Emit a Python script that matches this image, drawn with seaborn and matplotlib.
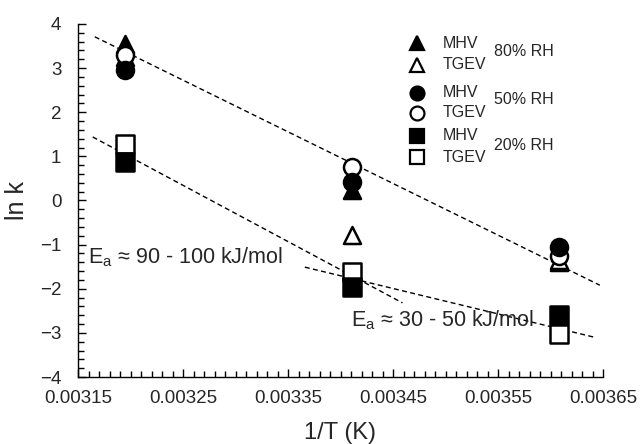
import matplotlib
matplotlib.use("Agg")
import matplotlib.pyplot as plt
import seaborn as sns
import numpy as np
from matplotlib.ticker import MultipleLocator, FixedLocator

sns.set_style("white")
plt.rcParams['font.family'] = ['Liberation Sans', 'DejaVu Sans']
plt.rcParams['mathtext.fontset'] = 'custom'
plt.rcParams['mathtext.rm'] = 'Liberation Sans'

# Data
inv_T = [0.003195, 0.003411, 0.003608]
mhv_80 = [3.55, 0.24, -1.40]
tgev_80 = [3.25, -0.78, -1.35]
tgev_50 = [3.30, 0.76, -1.25]
mhv_50 = [2.96, 0.42, -1.05]
tgev_20 = [1.28, -1.62, -3.03]
mhv_20 = [0.87, -1.96, -2.60]

fit_hi_x = [0.003166, 0.003647]
fit_hi_y = [3.71, -1.92]
fit_lo1_x = [0.003164, 0.003459]
fit_lo1_y = [1.44, -2.32]
fit_lo2_x = [0.003366, 0.003642]
fit_lo2_y = [-1.51, -3.10]

xticks = [0.00315, 0.00325, 0.00335, 0.00345, 0.00355, 0.00365]
xticklabels = ["0.00315", "0.00325", "0.00335", "0.00345", "0.00355", "0.00365"]
yticks = [-4, -3, -2, -1, 0, 1, 2, 3, 4]

fig = plt.figure(figsize=(6.4, 4.44), dpi=100)
ax = fig.add_axes([78/640, 1-377/444, 525/640, 353/444])

# fit lines
for fx, fy in [(fit_hi_x, fit_hi_y), (fit_lo1_x, fit_lo1_y), (fit_lo2_x, fit_lo2_y)]:
    sns.lineplot(x=fx, y=fy, ax=ax, color='black', linewidth=1.0,
                 linestyle=(0, (3.6, 2.4)), estimator=None, sort=False)

ms = 150
series = [
    (mhv_80, '^', 'black'),
    (tgev_80, '^', 'white'),
    (tgev_50, 'o', 'white'),
    (mhv_50, 'o', 'black'),
    (tgev_20, 's', 'white'),
    (mhv_20, 's', 'black'),
]
for ys, mk, fc in series:
    sns.scatterplot(x=inv_T, y=ys, ax=ax, marker=mk, s=ms,
                    facecolors=fc, edgecolors='black', linewidths=1.8, zorder=3)

# custom legend
leg_x = (417-78)/525
rows = [('^', 'black', 'MHV', 0.946), ('^', 'white', 'TGEV', 0.884),
        ('o', 'black', 'MHV', 0.805), ('o', 'white', 'TGEV', 0.748),
        ('s', 'black', 'MHV', 0.683), ('s', 'white', 'TGEV', 0.623)]
for mk, fc, lab, yy in rows:
    ax.plot([leg_x], [yy], marker=mk, markersize=10, markerfacecolor=fc,
            markeredgecolor='black', markeredgewidth=1.6, linestyle='none',
            transform=ax.transAxes, clip_on=False)
    ax.text((443-78)/525, yy, lab, transform=ax.transAxes, fontsize=11.5,
            va='center', ha='left')
for lab, yy in [('80% RH', 0.921), ('50% RH', 0.785), ('20% RH', 0.657)]:
    ax.text((494-78)/525, yy, lab, transform=ax.transAxes, fontsize=11.5,
            va='center', ha='left')

ax.text(0.0031595, -1.28, r"E$_{\mathrm{a}}$ ≈ 90 - 100 kJ/mol", fontsize=15.5,
        va='center', ha='left')
ax.text(0.003410, -2.72, r"E$_{\mathrm{a}}$ ≈ 30 - 50 kJ/mol", fontsize=15.5,
        va='center', ha='left')

ax.set_xlim(0.00315, 0.00365)
ax.set_ylim(-4, 4)
ax.xaxis.set_major_locator(FixedLocator(xticks))
ax.set_xticklabels(xticklabels)
ax.xaxis.set_minor_locator(MultipleLocator(0.00001))
ax.set_yticks(yticks)
ax.yaxis.set_minor_locator(MultipleLocator(0.2))

ax.tick_params(which='both', direction='in', color='black', width=1.0,
               bottom=True, left=True, top=False, right=False)
ax.tick_params(which='major', length=6, labelsize=13.5)
ax.tick_params(which='minor', length=4)
ax.tick_params(axis='x', which='major', pad=9)
ax.tick_params(axis='y', which='major', pad=12)

for side in ['top', 'right']:
    ax.spines[side].set_visible(False)
for side in ['left', 'bottom']:
    ax.spines[side].set_color('black')
    ax.spines[side].set_linewidth(1.0)

ax.set_xlabel('1/T (K)', fontsize=17, labelpad=11)
ax.set_ylabel('ln k', fontsize=18, labelpad=8)
ax.grid(False)

fig.savefig('out.png', dpi=100)
